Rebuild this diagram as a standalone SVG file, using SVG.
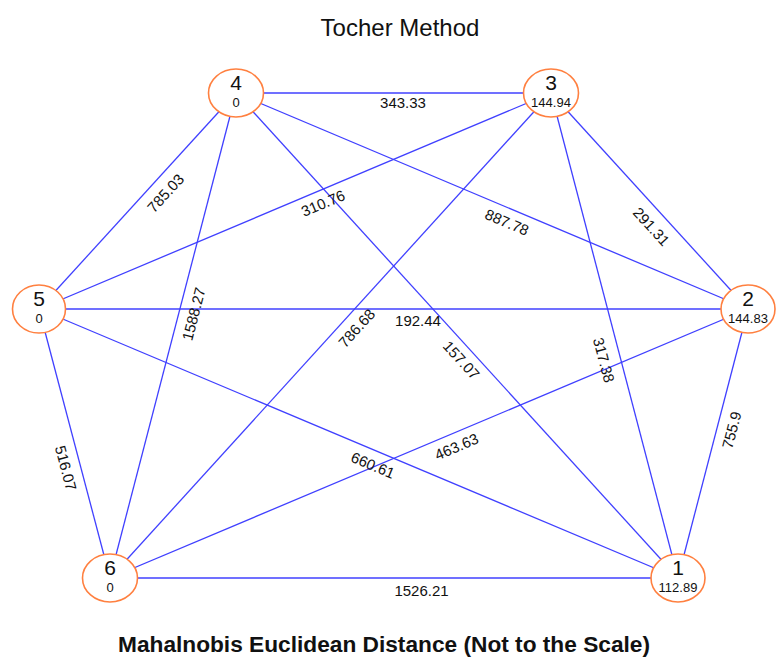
<svg xmlns="http://www.w3.org/2000/svg" width="776" height="658" viewBox="0 0 776 658">
<style>
.e{stroke:#4040ff;stroke-width:1.3;fill:none}
.n{fill:#fff;stroke:#ff8040;stroke-width:1.6}
.t{font-family:"Liberation Sans",Arial,sans-serif;fill:#111}
.num{font-size:21px;text-anchor:middle}
.val{font-size:13px;text-anchor:middle}
.lab{font-size:15px;text-anchor:middle;dominant-baseline:central}
</style>
<rect width="776" height="658" fill="#fff"/>
<text class="t" x="400" y="36" font-size="24" text-anchor="middle">Tocher Method</text>
<g id="connectors">
<line class="e" x1="236" y1="93" x2="551" y2="93"/>
<line class="e" x1="236" y1="93" x2="39" y2="309"/>
<line class="e" x1="236" y1="93" x2="110" y2="578"/>
<line class="e" x1="236" y1="93" x2="748" y2="309"/>
<line class="e" x1="236" y1="93" x2="678" y2="578"/>
<line class="e" x1="551" y1="93" x2="39" y2="309"/>
<line class="e" x1="551" y1="93" x2="110" y2="578"/>
<line class="e" x1="551" y1="93" x2="748" y2="309"/>
<line class="e" x1="551" y1="93" x2="678" y2="578"/>
<line class="e" x1="39" y1="309" x2="748" y2="309"/>
<line class="e" x1="39" y1="309" x2="110" y2="578"/>
<line class="e" x1="39" y1="309" x2="678" y2="578"/>
<line class="e" x1="110" y1="578" x2="748" y2="309"/>
<line class="e" x1="748" y1="309" x2="678" y2="578"/>
<line class="e" x1="110" y1="578" x2="678" y2="578"/>
<g class="t lab">
<text transform="translate(403,102)">343.33</text>
<text transform="translate(165.5,193) rotate(-47.6)">785.03</text>
<text transform="translate(323,203) rotate(-22.9)">310.76</text>
<text transform="translate(507,222) rotate(22.8)">887.78</text>
<text transform="translate(651.5,226.5) rotate(47.5)">291.31</text>
<text transform="translate(193.5,314) rotate(-75.5)">1588.27</text>
<text transform="translate(356.5,328) rotate(-47.8)">786.68</text>
<text transform="translate(418,320)">192.44</text>
<text transform="translate(461.5,360) rotate(47.6)">157.07</text>
<text transform="translate(604,360) rotate(75.3)">317.38</text>
<text transform="translate(731.5,430) rotate(-75.4)">755.9</text>
<text transform="translate(66,468) rotate(75.3)">516.07</text>
<text transform="translate(373,465) rotate(22.8)">660.61</text>
<text transform="translate(456.5,446.5) rotate(-23)">463.63</text>
<text transform="translate(421.5,590)">1526.21</text>
</g>
</g>
<g id="node4"><ellipse class="n" cx="236" cy="93" rx="27.5" ry="24"/><text class="t num" x="236" y="90">4</text><text class="t val" x="236" y="107">0</text></g>
<g id="node3"><ellipse class="n" cx="551" cy="93" rx="27.5" ry="24"/><text class="t num" x="551" y="90">3</text><text class="t val" x="551" y="107">144.94</text></g>
<g id="node5"><ellipse class="n" cx="39" cy="309" rx="26.5" ry="24"/><text class="t num" x="39" y="306">5</text><text class="t val" x="39" y="323">0</text></g>
<g id="node2"><ellipse class="n" cx="748" cy="309" rx="27" ry="24"/><text class="t num" x="748" y="306">2</text><text class="t val" x="748" y="323">144.83</text></g>
<g id="node6"><ellipse class="n" cx="110" cy="578" rx="27.5" ry="24"/><text class="t num" x="110" y="575">6</text><text class="t val" x="110" y="592">0</text></g>
<g id="node1"><ellipse class="n" cx="678" cy="578" rx="27" ry="24"/><text class="t num" x="678" y="575">1</text><text class="t val" x="678" y="592">112.89</text></g>
<text class="t" x="384" y="652" font-size="22" font-weight="bold" text-anchor="middle" textLength="532" lengthAdjust="spacingAndGlyphs">Mahalnobis Euclidean Distance (Not to the Scale)</text>
</svg>
